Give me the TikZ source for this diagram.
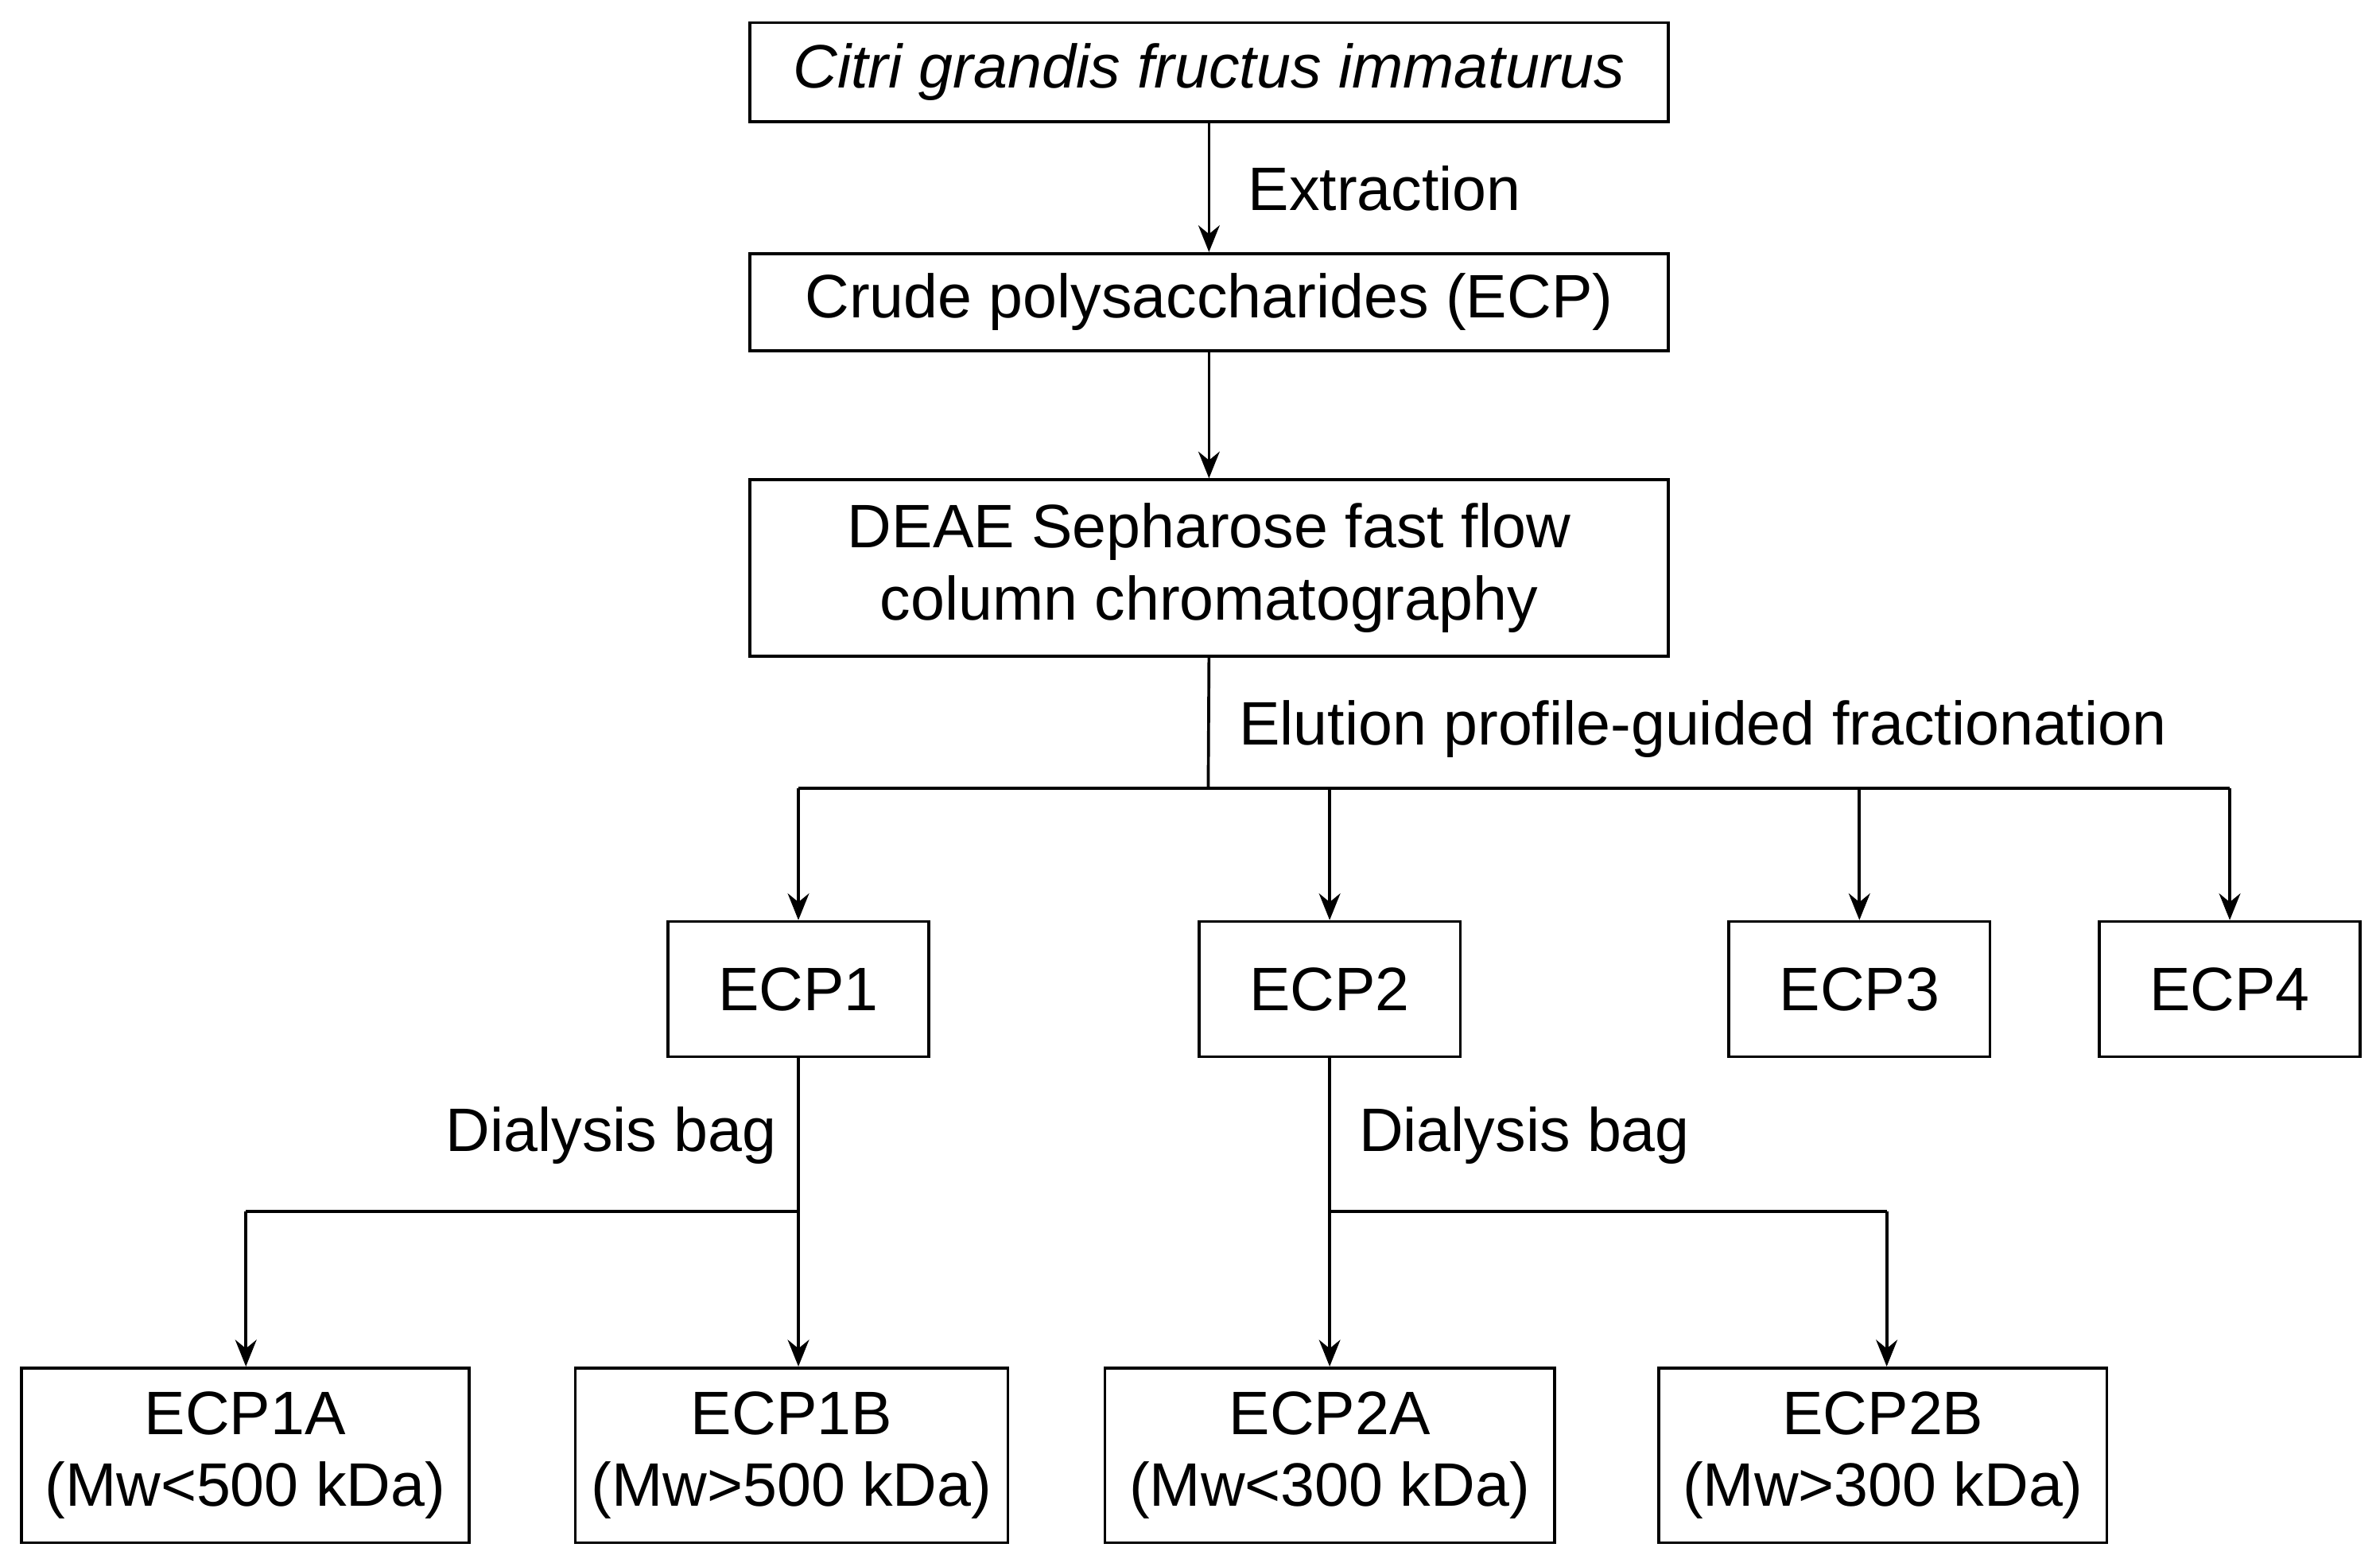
\documentclass[tikz,border=0pt]{standalone}
\usepackage{fontspec}
\setmainfont{Liberation Sans}
\usetikzlibrary{arrows.meta}
\begin{document}
\begin{tikzpicture}[x=0.02cm,y=-0.02cm,
 bx/.style={draw,line width=1.1pt,inner sep=0pt,font=\fontsize{23}{27}\selectfont,align=center},
 ln/.style={line width=1.1pt},
 ar/.style={ln,-{Stealth[length=10pt,width=8pt]}},
 lb/.style={font=\fontsize{23}{27}\selectfont,inner sep=0pt}]
\useasboundingbox (0,0) rectangle (1568,1029);
\newcommand\bxx[6]{\node[bx,minimum width=#3*0.02cm-1.1pt,minimum height=#5*0.02cm-1.1pt] (#1) at (#2,#4) {#6};}
\bxx{top}{796.5}{607}{47.5}{67}{\itshape Citri grandis fructus immaturus}
\bxx{crude}{796.5}{607}{199}{66}{Crude polysaccharides (ECP)}
\bxx{deae}{796.5}{607}{374}{118}{DEAE Sepharose fast flow\\column chromatography}
\bxx{e1}{526}{174}{651.5}{91}{ECP1}
\bxx{e2}{876}{174}{651.5}{91}{ECP2}
\bxx{e3}{1225}{174}{651.5}{91}{ECP3}
\bxx{e4}{1469}{174}{651.5}{91}{ECP4}
\bxx{a1}{161.5}{297}{958.5}{117}{ECP1A\\(Mw<500 kDa)}
\bxx{b1}{521.5}{287}{958.5}{117}{ECP1B\\(Mw>500 kDa)}
\bxx{a2}{876}{298}{958.5}{117}{ECP2A\\(Mw<300 kDa)}
\bxx{b2}{1240.5}{297}{958.5}{117}{ECP2B\\(Mw>300 kDa)}
\draw[ar] (top) -- (crude);
\node[lb,anchor=west] (lx) at (822,124) {Extraction};
\draw[ar] (crude) -- (deae);
\coordinate (j0) at (796,519);
\draw[ln] (deae.south) -- (j0);
\node[lb,anchor=west] (le) at (816,480) {Elution profile-guided fractionation};
\draw[ln] (526,519) -- (1469,519);
\draw[ar] (526,519) -- (e1);
\draw[ar] (876,519) -- (e2);
\draw[ar] (1225,519) -- (e3.north);
\draw[ar] (1469,519) -- (e4);
\coordinate (j1) at (526,798);
\draw[ln] (e1) -- (j1) -- (162,798);
\draw[ar] (162,798) -- (a1.north -| 162,0);
\draw[ar] (j1) -- (a1.north -| 526,0);
\node[lb,anchor=east] (d1) at (512,748) {Dialysis bag};
\coordinate (j2) at (876,798);
\draw[ln] (e2) -- (j2) -- (1243,798);
\draw[ar] (j2) -- (a2);
\draw[ar] (1243,798) -- (b2.north -| 1243,0);
\node[lb,anchor=west] (d2) at (895,748) {Dialysis bag};
\end{tikzpicture}
\end{document}
